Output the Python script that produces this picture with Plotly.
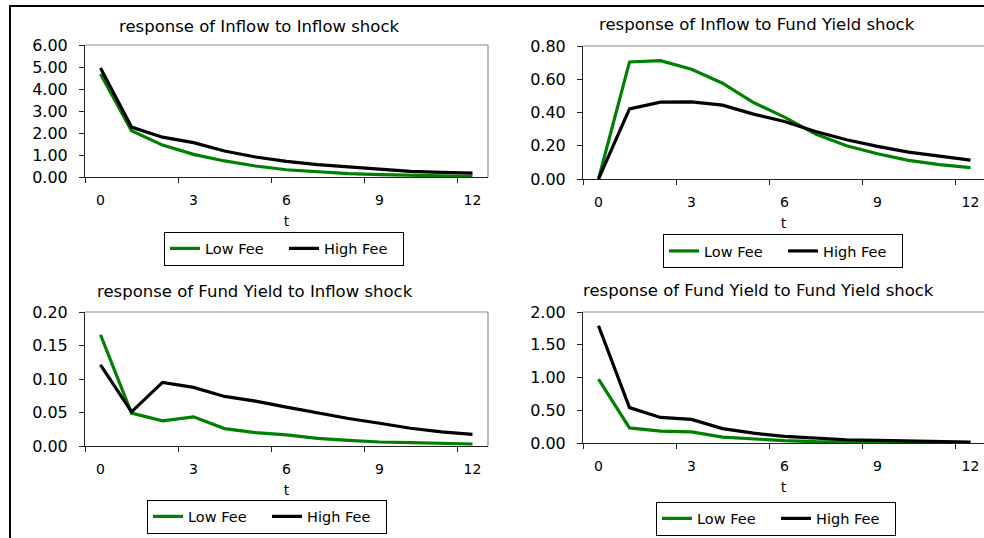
import plotly.graph_objects as go

# ---- data ----
t_labels = ["0", "1", "2", "3", "4", "5", "6", "7", "8", "9", "10", "11", "12"]

inflow_inflow_low = [4.68, 2.10, 1.45, 1.03, 0.73, 0.50, 0.33, 0.23, 0.15, 0.11, 0.07, 0.05, 0.03]
inflow_inflow_high = [4.95, 2.27, 1.81, 1.56, 1.18, 0.91, 0.71, 0.56, 0.46, 0.35, 0.26, 0.21, 0.18]

inflow_yield_low = [0.0, 0.704, 0.712, 0.66, 0.576, 0.46, 0.372, 0.27, 0.20, 0.152, 0.112, 0.086, 0.068]
inflow_yield_high = [0.0, 0.422, 0.462, 0.464, 0.444, 0.39, 0.346, 0.286, 0.236, 0.196, 0.162, 0.136, 0.114]

yield_inflow_low = [0.166, 0.049, 0.0375, 0.0435, 0.026, 0.020, 0.0165, 0.0115, 0.0085, 0.006, 0.005, 0.004, 0.003]
yield_inflow_high = [0.121, 0.051, 0.095, 0.0875, 0.074, 0.067, 0.058, 0.049, 0.041, 0.034, 0.0265, 0.021, 0.0175]

yield_yield_low = [0.975, 0.23, 0.18, 0.17, 0.09, 0.06, 0.035, 0.02, 0.015, 0.01, 0.008, 0.005, 0.004]
yield_yield_high = [1.79, 0.54, 0.39, 0.36, 0.22, 0.15, 0.10, 0.07, 0.05, 0.04, 0.03, 0.02, 0.015]

titles = [
    "response of Inflow to Inflow shock",
    "response of Inflow to Fund Yield shock",
    "response of Fund Yield to Inflow shock",
    "response of Fund Yield to Fund Yield shock",
]
series_names = ["Low Fee", "High Fee"]
y_ranges = [(0, 6), (0, 0.8), (0, 0.2), (0, 2)]
y_dticks = [1, 0.2, 0.05, 0.5]

panels = [
    (inflow_inflow_low, inflow_inflow_high),
    (inflow_yield_low, inflow_yield_high),
    (yield_inflow_low, yield_inflow_high),
    (yield_yield_low, yield_yield_high),
]

# ---- layout geometry (pixels) ----
W, H = 984, 538
FONT = "DejaVu Sans"
GREEN = "#008000"
BLACK = "#000000"

# plot boxes: left, right, top, bottom in pixels
boxes = [
    (85, 488, 45, 177),
    (583, 984, 46, 179),
    (85, 488, 312, 446),
    (583, 984, 312, 443),
]
title_pos = [(259, 26), (757, 25), (255, 291), (758, 290)]
legend_pos = [(164, 231.5), (663, 234), (147, 499.5), (656, 501.5)]

fig = go.Figure()
shapes = []
annotations = []
layout = dict(
    template="none",
    width=W, height=H,
    margin=dict(l=0, r=0, t=0, b=0, pad=0, autoexpand=False),
    paper_bgcolor="white", plot_bgcolor="white",
    font=dict(family=FONT, color="black", size=14),
)

for i, (low, high) in enumerate(panels):
    n = i + 1
    sfx = "" if n == 1 else str(n)
    leg = "legend" if n == 1 else f"legend{n}"
    for name, vals, col in ((series_names[0], low, GREEN), (series_names[1], high, BLACK)):
        fig.add_trace(go.Scatter(
            x=t_labels, y=vals, name=name, mode="lines",
            line=dict(color=col, width=3.2),
            xaxis=f"x{sfx}", yaxis=f"y{sfx}", legend=leg,
            showlegend=True,
        ))
    l, r, tp, bt = boxes[i]
    xr_end = -0.5 + (r - l) / 31.0
    layout[f"xaxis{sfx}"] = dict(
        domain=[l / W, r / W], anchor=f"y{sfx}", automargin=False,
        type="category", range=[-0.5, xr_end],
        tickmode="linear", tick0=0, dtick=3, tickson="boundaries",
        ticks="outside", ticklen=5, tickcolor="#222", tickwidth=1,
        showline=True, linecolor="#222", linewidth=1,
        showgrid=False, zeroline=False,
        tickfont=dict(family=FONT, size=14),
        ticklabelstandoff=10,
        title=dict(text="t", font=dict(family=FONT, size=14), standoff=9),
        fixedrange=True,
    )
    layout[f"yaxis{sfx}"] = dict(
        domain=[1 - bt / H, 1 - tp / H], anchor=f"x{sfx}", automargin=False,
        range=list(y_ranges[i]), dtick=y_dticks[i], tick0=0,
        tickformat=".2f",
        ticks="outside", ticklen=5, tickcolor="#222", tickwidth=1,
        showline=True, linecolor="#222", linewidth=1,
        showgrid=False, zeroline=False,
        tickfont=dict(family=FONT, size=16),
        ticklabelstandoff=8,
        fixedrange=True,
    )
    # gray plot-area border (top, and right for left panels)
    xref = f"x{sfx} domain"
    yref = f"y{sfx} domain"
    shapes.append(dict(type="line", xref=xref, yref=yref, x0=0, x1=1, y0=1, y1=1,
                       line=dict(color="#8c8c8c", width=1.2), layer="below"))
    if r < W:
        shapes.append(dict(type="line", xref=xref, yref=yref, x0=1, x1=1, y0=0, y1=1,
                           line=dict(color="#8c8c8c", width=1.2), layer="below"))
    tx, ty = title_pos[i]
    annotations.append(dict(text=titles[i], xref="paper", yref="paper",
                            x=tx / W, y=1 - ty / H, xanchor="center", yanchor="middle",
                            showarrow=False, font=dict(family=FONT, size=16.5)))
    lx, ly = legend_pos[i]
    layout[leg] = dict(
        orientation="h", x=lx / W, y=1 - ly / H, xanchor="left", yanchor="top",
        bordercolor="black", borderwidth=1, bgcolor="white",
        font=dict(family=FONT, size=14.5), itemwidth=30, tracegroupgap=0,
        entrywidth=74, entrywidthmode="pixels",
    )

# outer black frame
shapes.append(dict(type="rect", xref="paper", yref="paper",
                   x0=10 / W, x1=1.05, y0=-0.05, y1=1 - 6 / H,
                   line=dict(color="black", width=2), fillcolor="rgba(0,0,0,0)"))

layout["shapes"] = shapes
layout["annotations"] = annotations
fig.update_layout(**layout)
fig.write_html(
    "out.html",
    config={"displayModeBar": False, "staticPlot": True},
    post_script="document.body.style.margin='0';document.body.style.padding='0';document.body.style.overflow='hidden';",
)
